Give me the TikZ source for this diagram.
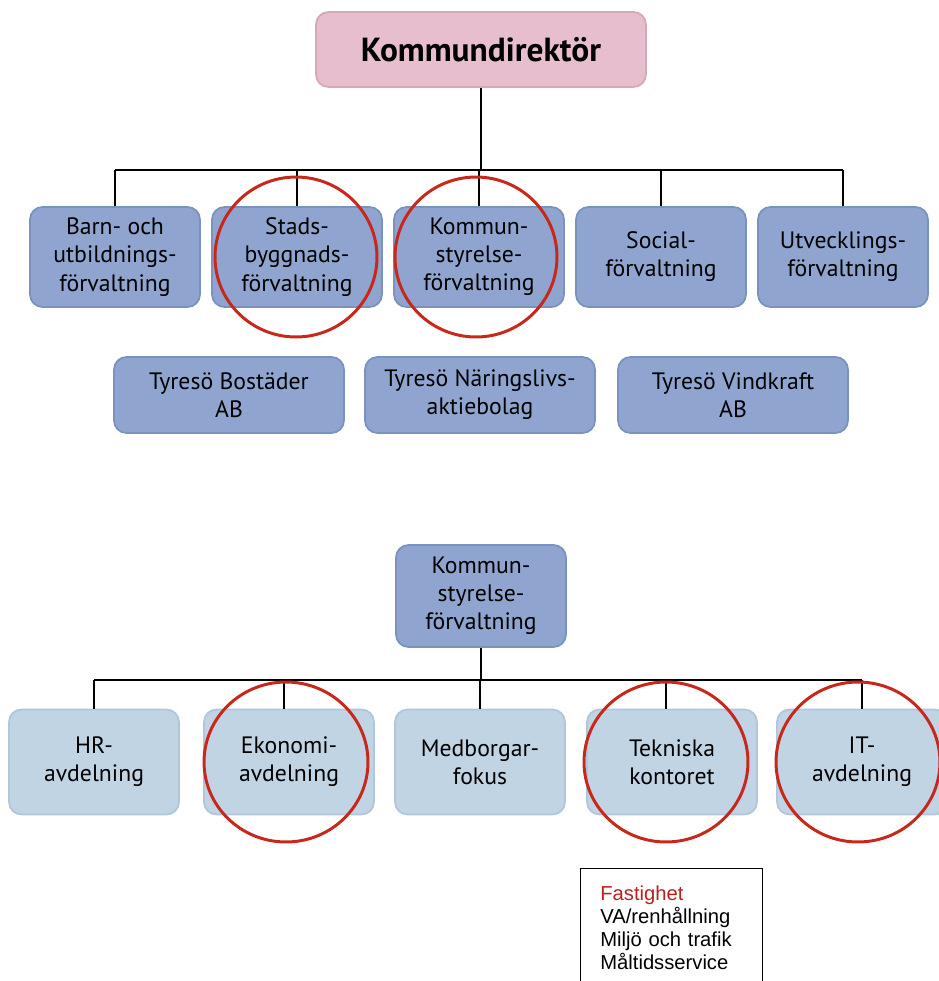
\documentclass[tikz,border=0pt]{standalone}
\usepackage{fontspec}
\setmainfont{PT Sans}
\newfontfamily\listfont{Liberation Sans}

\definecolor{chefrosa}{RGB}{230,190,205}
\definecolor{chefkant}{RGB}{214,168,186}
\definecolor{forvbla}{RGB}{143,165,207}
\definecolor{forvkant}{RGB}{122,146,190}
\definecolor{avdbla}{RGB}{193,212,228}
\definecolor{avdkant}{RGB}{176,198,218}
\definecolor{ringrod}{RGB}{200,40,28}
\definecolor{listrod}{RGB}{190,30,30}

\tikzstyle{chef} = [draw=chefkant, fill=chefrosa, rectangle,
  rounded corners=0.25cm, minimum width=6.6cm, minimum height=1.5cm,
  font=\fontsize{19}{22}\selectfont\bfseries]
\tikzstyle{forvaltning} = [draw=forvkant, fill=forvbla, rectangle,
  rounded corners=0.25cm, minimum width=3.4cm, minimum height=2.0cm,
  align=center, font=\fontsize{13.5}{16}\selectfont]
\tikzstyle{bolag} = [forvaltning, minimum width=4.6cm, minimum
  height=1.52cm]
\tikzstyle{avdelning} = [forvaltning, draw=avdkant, fill=avdbla,
  minimum height=2.1cm]
\tikzstyle{ring} = [draw=ringrod, line width=1.7pt]
\tikzstyle{lista} = [draw=black, thin, rectangle, anchor=north west,
  text width=2.84cm, inner xsep=0.4cm, inner ysep=0.34cm, align=left,
  font=\listfont\fontsize{11.5}{13.2}\selectfont]

\begin{document}
\begin{tikzpicture}[x=0.02cm, y=-0.02cm, line width=1pt]
        \useasboundingbox (0,0) rectangle (938,981);

        % top level
        \node [chef]        (kd)   at (481, 49.5) {Kommundirektör};
        \node [forvaltning] (buf)  at (115,257) {Barn- och\\utbildnings-\\förvaltning};
        \node [forvaltning] (sbf)  at (297,257) {Stads-\\byggnads-\\förvaltning};
        \node [forvaltning] (ksf)  at (479,257) {Kommun-\\styrelse-\\förvaltning};
        \node [forvaltning] (sof)  at (661,257) {Social-\\förvaltning};
        \node [forvaltning] (utf)  at (843,257) {Utvecklings-\\förvaltning};
        \coordinate (bar1) at (481,170);

        \node [bolag] (bost)  at (229,395) {Tyresö Bostäder\\AB};
        \node [bolag] (nar)   at (480,395) {Tyresö Näringslivs-\\aktiebolag};
        \node [bolag] (vind)  at (733,395) {Tyresö Vindkraft\\AB};

        \draw (kd.south) -- (bar1);
        \draw (buf.north |- bar1) -- (utf.north |- bar1);
        \draw (buf.north |- bar1) -- (buf.north);
        \draw (sbf.north |- bar1) -- (sbf.north);
        \draw (ksf.north |- bar1) -- (ksf.north);
        \draw (sof.north |- bar1) -- (sof.north);
        \draw (utf.north |- bar1) -- (utf.north);

        \draw[ring] ([xshift=-0.02cm]sbf.center) ellipse [x radius=1.62cm, y radius=1.6cm];
        \draw[ring] ([xshift=-0.06cm]ksf.center) ellipse [x radius=1.62cm, y radius=1.6cm];

        % kommunstyrelseförvaltningen
        \node [forvaltning, minimum height=2.04cm] (ks) at (481,596) {Kommun-\\styrelse-\\förvaltning};
        \node [avdelning] (hr)   at (94,762)  {HR-\\avdelning};
        \node [avdelning] (eko)  at (289,762) {Ekonomi-\\avdelning};
        \node [avdelning] (med)  at (480,762) {Medborgar-\\fokus};
        \node [avdelning] (tek)  at (672,762) {Tekniska\\kontoret};
        \node [avdelning] (it)   at (862,762) {IT-\\avdelning};
        \coordinate (bar2) at (481,680);

        \draw (ks.south) -- (bar2);
        \draw (hr.north |- bar2) -- (it.north |- bar2);
        \draw (hr.north |- bar2) -- (hr.north);
        \draw ([xshift=-0.1cm]eko.north |- bar2) -- ([xshift=-0.1cm]eko.north);
        \draw (med.north |- bar2) -- (med.north);
        \draw ([xshift=-0.12cm]tek.north |- bar2) -- ([xshift=-0.12cm]tek.north);
        \draw (it.north |- bar2) -- (it.north);

        \draw[ring] ([xshift=-0.06cm]eko.center) ellipse [x radius=1.64cm, y radius=1.6cm];
        \draw[ring] ([xshift=-0.12cm]tek.center) ellipse [x radius=1.64cm, y radius=1.6cm];
        \draw[ring] ([xshift=-0.08cm]it.center) ellipse [x radius=1.64cm, y radius=1.6cm];

        \node [lista] (tekl) at (580,868) {\textcolor{listrod}{Fastighet}\\VA/renhållning\\Miljö och trafik\\Måltidsservice\\[0.6cm]\mbox{}};
      \end{tikzpicture}
\end{document}
